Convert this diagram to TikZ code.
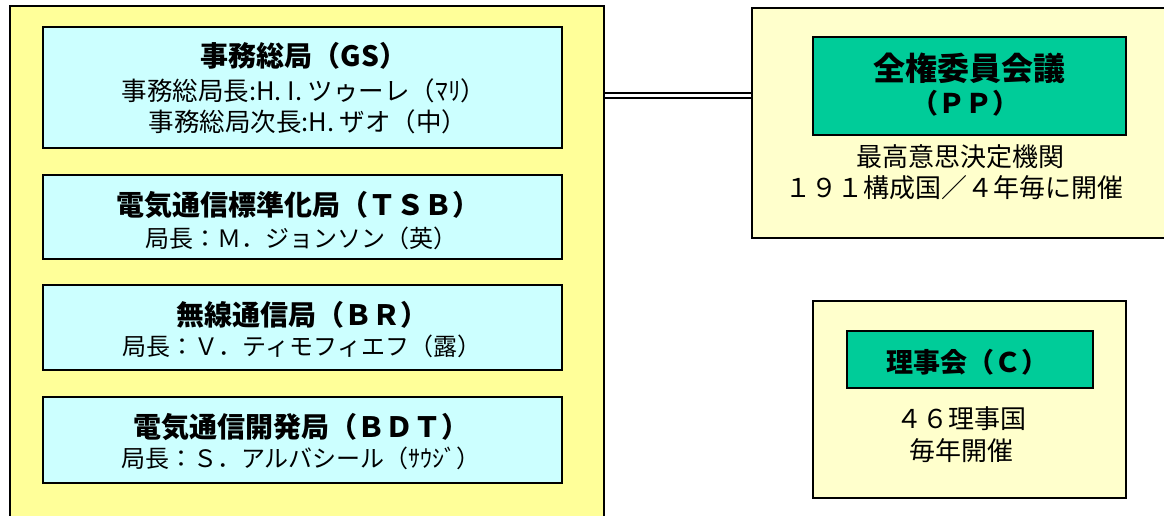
\documentclass[tikz,border=0pt]{standalone}
\usepackage{fontspec}
\setmainfont{Noto Sans CJK JP}
\usetikzlibrary{positioning}

\definecolor{secyellow}{HTML}{FFFF99}
\definecolor{paleyellow}{HTML}{FFFFCC}
\definecolor{bureaucyan}{HTML}{CCFFFF}
\definecolor{organgreen}{HTML}{00CC99}

\newcommand{\fsz}[1]{\fontsize{#1}{#1}\selectfont}

\begin{document}
\begin{tikzpicture}[x=1pt, y=-1pt,
    every node/.style={inner sep=0pt, outer sep=0pt},
    frame/.style={draw=black, line width=2pt, rectangle},
    bureau/.style={frame, fill=bureaucyan, minimum width=519pt},
    organ/.style={frame, fill=organgreen},
    ttl/.style={font=\bfseries\fsz{28}},
    sub/.style={font=\fsz{24}},
    note/.style={font=\fsz{26}}]
\clip (0,0) rectangle (1164,516);

% general secretariat and bureaux
\node[frame, fill=secyellow, minimum width=594pt, minimum height=534pt] (sec) at (307,273) {};
\node[bureau, minimum height=121pt] (gs)  at (302,87.5) {};
\node[bureau, minimum height=84pt]  (tsb) at (302,217) {};
\node[bureau, minimum height=85pt]  (br)  at (302,327.5) {};
\node[bureau, minimum height=86pt]  (bdt) at (302,440) {};

\node[ttl] (gs-name)  at (304,56)  {事務総局（GS）};
\node[sub, font=\fsz{25.5}] (gs-sg)  at (304,91)  {事務総局長:H. I. ツゥーレ（ﾏﾘ）};
\node[sub, font=\fsz{25.5}] (gs-dsg) at (308,122) {事務総局次長:H. ザオ（中）};

\node[ttl] (tsb-name) at (298,205) {電気通信標準化局（ＴＳＢ）};
\node[sub] (tsb-dir)  at (301,238) {局長：Ｍ．ジョンソン（英）};

\node[ttl] (br-name)  at (302,315) {無線通信局（ＢＲ）};
\node[sub] (br-dir)   at (302,346) {局長：Ｖ．ティモフィエフ（露）};

\node[ttl] (bdt-name) at (301,427) {電気通信開発局（ＢＤＴ）};
\node[sub] (bdt-dir)  at (301,458) {局長：Ｓ．アルバシール（ｻｳｼﾞ）};

% plenipotentiary conference
\node[frame, fill=paleyellow, minimum width=428pt, minimum height=230pt] (pp) at (966,123) {};
\node[organ, minimum width=313pt, minimum height=98pt] (pp-box) at (969.5,86) {};
\node[font=\bfseries\fsz{32}] (pp-name) at (969,68)  {全権委員会議};
\node[font=\bfseries\fsz{27}] (pp-abbr) at (965,103) {（ＰＰ）};
\node[note] (pp-role)  at (960,157) {最高意思決定機関};
\node[note] (pp-cycle) at (954,188) {１９１構成国／４年毎に開催};

% council
\node[frame, fill=paleyellow, minimum width=313pt, minimum height=197pt] (c) at (969.5,399.5) {};
\node[organ, minimum width=246pt, minimum height=57pt] (c-box) at (970,359.5) {};
\node[font=\bfseries\fsz{27}] (c-name) at (967,362) {理事会（Ｃ）};
\node[note] (c-members) at (961,419) {４６理事国};
\node[note] (c-cycle)   at (961,451) {毎年開催};

% link
\coordinate (link) at (0,95.5);
\draw[double, double distance=3pt, line width=2pt, shorten <=1pt, shorten >=1pt]
  (sec.east |- link) -- (pp.west |- link);
\end{tikzpicture}
\end{document}
